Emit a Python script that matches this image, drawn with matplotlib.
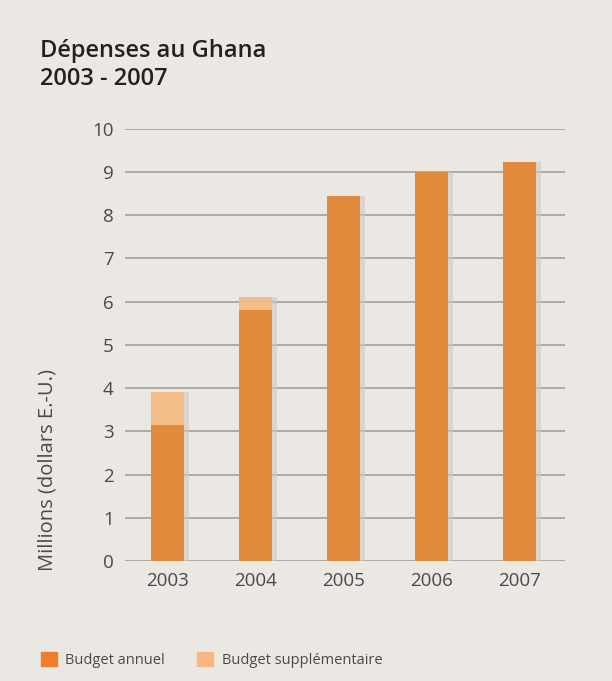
import matplotlib.pyplot as plt
from matplotlib.patches import Patch

plt.rcParams['font.family'] = ['Open Sans', 'DejaVu Sans']

# Data (millions USD)
years = ["2003", "2004", "2005", "2006", "2007"]
budget_annuel = [3.15, 5.8, 8.45, 9.0, 9.22]
budget_supp = [0.77, 0.3, 0.0, 0.0, 0.0]
yticks = list(range(0, 11))

bg = "#ebe8e3"
c_annuel = "#e38b3c"
c_supp = "#f3bd8a"
grid_c = "#a8a49f"
text_c = "#4a4a4a"

fig = plt.figure(figsize=(6.12, 6.81), dpi=100)
fig.patch.set_facecolor(bg)
ax = fig.add_axes([0.204, 0.176, 0.719, 0.635])
ax.set_facecolor("none")

x = list(range(len(years)))
w = 0.375
# soft shadow behind bars
ax.bar([i + 0.05 for i in x], [a + s for a, s in zip(budget_annuel, budget_supp)],
       width=w, color="#cdc8c0", alpha=0.6, zorder=2)
ax.bar(x, budget_annuel, width=w, color=c_annuel, zorder=3)
ax.bar(x, budget_supp, width=w, bottom=budget_annuel, color=c_supp, zorder=3)

ax.set_ylim(0, 10)
ax.set_xlim(-0.49, 4.51)
ax.set_yticks(yticks)
ax.set_xticks(x)
ax.set_xticklabels(years)
ax.yaxis.grid(True, color=grid_c, linewidth=1.3, zorder=1)
ax.set_axisbelow(True)
for s in ax.spines.values():
    s.set_visible(False)
ax.tick_params(length=0, labelsize=13.5, labelcolor=text_c)
ax.tick_params(axis="y", pad=8)
ax.tick_params(axis="x", pad=8)

fig.text(0.077, 0.31, "Millions (dollars E.-U.)", rotation=90, fontsize=14.5,
         color=text_c, ha="center", va="center")

fig.text(0.065, 0.942, "Dépenses au Ghana\n2003 - 2007", fontsize=17, fontweight="semibold",
         color="#222222", va="top", ha="left", linespacing=1.2)

handles = [Patch(color="#ee7f2c", label="Budget annuel"),
           Patch(color="#f9b682", label="Budget supplémentaire")]
fig.legend(handles=handles, loc="lower left", bbox_to_anchor=(0.045, 0.0), ncol=2,
           frameon=False, fontsize=10.5, handlelength=1.1, handleheight=1.1,
           columnspacing=2.2, handletextpad=0.6, labelcolor=text_c)

fig.savefig("out.png", dpi=100, facecolor=bg)
